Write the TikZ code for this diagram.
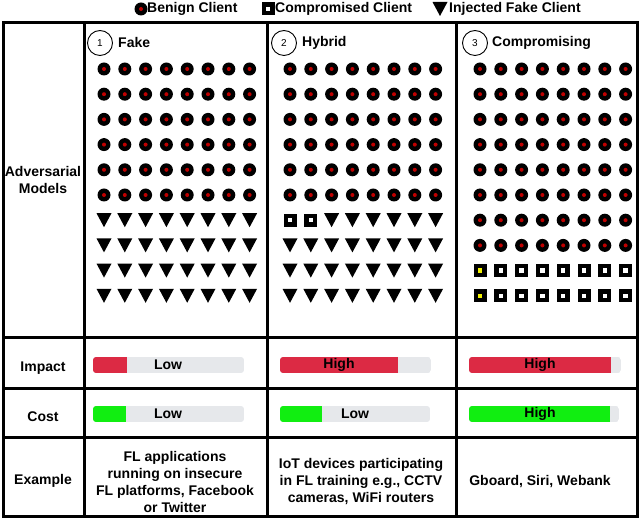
\documentclass[tikz,border=0pt]{standalone}
\usepackage{fontspec}
\setmainfont{Liberation Sans}
\definecolor{barred}{HTML}{DC2A44}
\definecolor{bargreen}{HTML}{11EE11}
\definecolor{bargray}{HTML}{E6E8EB}
\definecolor{dotred}{HTML}{C00000}
\definecolor{sqyellow}{HTML}{F2F200}
\tikzset{
  benign/.pic={\fill[black] (0,0) circle (6.5); \fill[dotred] (0,0) circle (2);},
  fakecl/.pic={\fill[black] (-7.5,-7) -- (7.5,-7) -- (0,7) -- cycle;},
  compro/.pic={\fill[black] (-6.5,-6.5) rectangle (6.5,6.5); \fill[white] (-2.2,-2.2) rectangle (2.2,2.2);},
  comproy/.pic={\fill[black] (-6.5,-6.5) rectangle (6.5,6.5); \fill[sqyellow] (-2.2,-2.2) rectangle (2.2,2.2);},
  grid/.style={line width=3pt},
  txt/.style={font=\bfseries\fontsize{14}{17}\selectfont, inner sep=0pt},
  head/.style={font=\bfseries\fontsize{14}{16}\selectfont, inner sep=0pt, anchor=west},
  num/.style={circle, draw, line width=0.9pt, minimum size=25pt, inner sep=0pt, font=\fontsize{10}{12}\selectfont},
  ex/.style={font=\bfseries\fontsize{14}{17}\selectfont, align=center, inner sep=0pt},
}
\newcommand{\mkbar}[5]{%
  \begin{scope}
  \clip[rounded corners=3pt] (#1,#4) rectangle (#2,#4+16);
  \fill[bargray] (#1,#4) rectangle (#2,#4+16);
  \fill[#5] (#1,#4) rectangle (#3,#4+16);
  \end{scope}}
\begin{document}
\begin{tikzpicture}[x=1pt,y=-1pt]
\useasboundingbox (0,0) rectangle (640,518);
% legend
\pic at (141,9) {benign};
\node[txt, anchor=west] (lb) at (147,9) {Benign Client};
\pic at (268,9) {compro};
\node[txt, anchor=west] (lc) at (275,9) {Compromised Client};
\pic at (440,9) {fakecl};
\node[txt, anchor=west] (lf) at (449,9) {Injected Fake Client};
% table
\draw[grid] (3,23) rectangle (637,516);
\draw[grid] (84,23) -- (84,516);
\draw[grid] (267,23) -- (267,516);
\draw[grid] (456,23) -- (456,516);
\draw[grid] (3,338) -- (637,338);
\draw[grid] (3,389) -- (637,389);
\draw[grid] (3,438) -- (637,438);
% headers
\node[num] (n1) at (100,43) {1};
\node[head] (h1) at (118,43) {Fake};
\node[num] (n2) at (284,43) {2};
\node[head] (h2) at (302,43) {Hybrid};
\node[num] (n3) at (475,43) {3};
\node[head] (h3) at (492,43) {Compromising};
% left labels
\node[txt, align=center, font=\bfseries\fontsize{14}{17.5}\selectfont] (adv) at (43,180) {Adversarial\\Models};
\node[txt] (imp) at (43,368) {Impact};
\node[txt] (cst) at (43,417) {Cost};
\node[txt] (exl) at (43,481) {Example};
% Fake column
\foreach \c in {0,...,7}{
  \foreach \r in {0,...,5}{\pic at (104+20.8*\c, 69+25.2*\r) {benign};}
  \foreach \r in {6,...,9}{\pic at (104+20.8*\c, 69+25.2*\r) {fakecl};}
}
% Hybrid column
\foreach \c in {0,...,7}{
  \foreach \r in {0,...,5}{\pic at (290+20.8*\c, 69+25.2*\r) {benign};}
  \foreach \r in {7,...,9}{\pic at (290+20.8*\c, 69+25.2*\r) {fakecl};}
}
\foreach \c in {0,1}{\pic at (290+20.8*\c, 69+25.2*6) {compro};}
\foreach \c in {2,...,7}{\pic at (290+20.8*\c, 69+25.2*6) {fakecl};}
% Compromising column
\foreach \c in {0,...,7}{
  \foreach \r in {0,...,7}{\pic at (480+20.8*\c, 69+25.2*\r) {benign};}
}
\foreach \c in {1,...,7}{
  \foreach \r in {8,9}{\pic at (480+20.8*\c, 69+25.2*\r) {compro};}
}
\foreach \r in {8,9}{\pic at (480, 69+25.2*\r) {comproy};}
% bars
\mkbar{93}{244}{127}{357}{barred}
\node[txt] (i1) at (168,365) {Low};
\mkbar{280}{431}{398}{357}{barred}
\node[txt] (i2) at (339,365) {High};
\mkbar{469}{621}{611}{357}{barred}
\node[txt] (i3) at (540,365) {High};
\mkbar{93}{244}{126}{406}{bargreen}
\node[txt] (c1) at (168,414) {Low};
\mkbar{280}{430}{322}{406}{bargreen}
\node[txt] (c2) at (355,414) {Low};
\mkbar{469}{619}{610}{406}{bargreen}
\node[txt] (c3) at (540,414) {High};
% examples
\node[ex] (e1) at (175,481.5) {FL applications\\running on insecure\\FL platforms, Facebook\\or Twitter};
\node[ex] (e2) at (361,481.5) {IoT devices participating\\in FL training e.g., CCTV\\cameras, WiFi routers};
\node[ex] (e3) at (540,481.5) {Gboard, Siri, Webank};
\end{tikzpicture}
\end{document}
